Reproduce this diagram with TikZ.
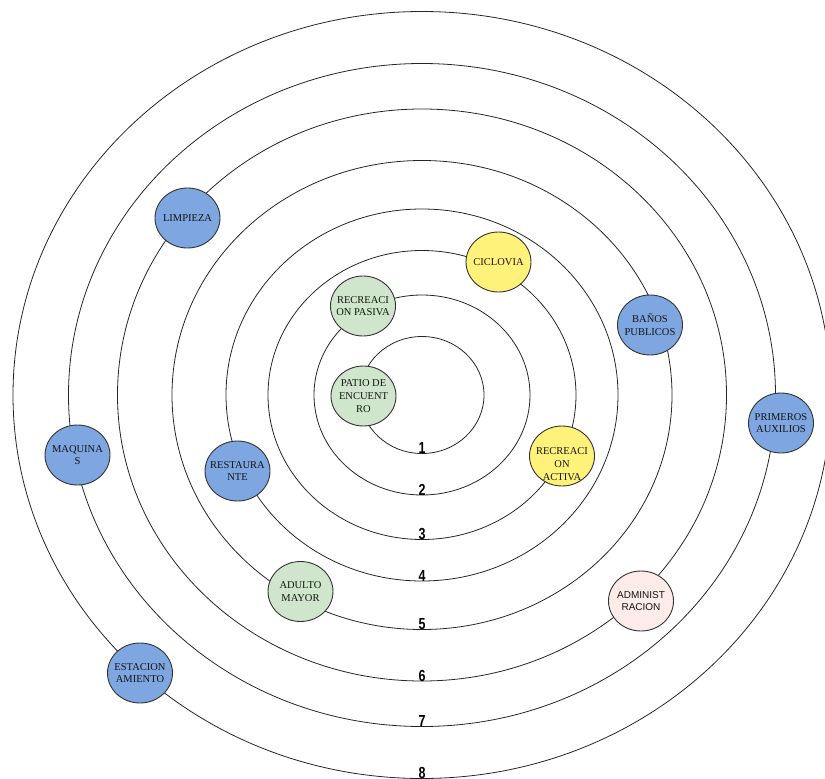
\documentclass[tikz,border=0pt]{standalone}
\usepackage{fontspec}
\setmainfont{Liberation Serif}
\newfontfamily\lsans{Liberation Sans}
\usetikzlibrary{shapes.geometric}
\definecolor{nblue}{HTML}{7EA6E0}
\definecolor{ngreen}{HTML}{D0E6CC}
\definecolor{nyellow}{HTML}{FFF27A}
\definecolor{npink}{HTML}{FCEBE7}
\definecolor{nline}{HTML}{333333}
\definecolor{ntext}{HTML}{141414}
\begin{document}
\begin{tikzpicture}[x=1pt,y=-1pt,
  ring/.style={draw=black!85,line width=0.8pt},
  numlabel/.style={anchor=base,inner sep=0pt,text=black,
    font=\lsans\bfseries\fontsize{16}{18}\selectfont},
  place/.style={ellipse,draw=nline,line width=0.9pt,minimum width=65pt,
    minimum height=60pt,inner sep=-12pt,outer sep=0pt,align=center,text=ntext,
    font=\fontsize{10.5}{12.8}\selectfont},
  sansplace/.style={place,font=\lsans\fontsize{10}{12.8}\selectfont},
  bluep/.style={place,fill=nblue},
  greenp/.style={place,fill=ngreen},
  yellowp/.style={place,fill=nyellow},
  pinkp/.style={sansplace,fill=npink},
  plaintext/.style={inner sep=0pt,align=center,text=ntext,
    font=\fontsize{10.5}{12.8}\selectfont}]
\path[use as bounding box] (0,0) rectangle (825,779);
\begin{scope}
\clip (0,0) rectangle (825,779);
\foreach \i/\rx/\ry in {1/62/58.5,2/108/100,3/154/144.5,4/196/186,5/250/234.5,6/304.5/286,7/353.5/331.5,8/409/383.5}{
  \draw[ring] (422,395) ellipse [x radius=\rx pt, y radius=\ry pt];
  \node[numlabel] (n\i) at (422,{395+\ry}) {\scalebox{0.78}[1]{\i}};
}
\end{scope}
% nodes
\node[greenp]  (patio)   at (363.5,396) {PATIO DE\\ENCUENT\\RO};
\node[greenp]  (rpasiva) at (363,306)   {RECREACI\\ON PASIVA};
\node[yellowp] (ciclo)   at (498.5,262) {CICLOVIA};
\node[yellowp] (ractiva) at (562,456)   {};
\node[plaintext] (ractivat) at ([yshift=-8pt]ractiva.center) {RECREACI\\ON\\ACTIVA};
\node[bluep]   (banos)   at (650,325)   {BAÑOS\\PUBLICOS};
\node[bluep]   (primeros) at (781,423)  {PRIMEROS\\AUXILIOS};
\node[bluep]   (limpieza) at (187.5,218) {LIMPIEZA};
\node[bluep]   (maquinas) at (77.5,455) {MAQUINA\\S};
\node[bluep]   (resta)   at (237.5,471) {RESTAURA\\NTE};
\node[greenp]  (adulto)  at (300.5,591.5) {ADULTO\\MAYOR};
\node[pinkp]   (admin)   at (641,601)   {ADMINIST\\RACION};
\node[bluep]   (estac)   at (140,673)   {ESTACION\\AMIENTO};
\end{tikzpicture}
\end{document}
